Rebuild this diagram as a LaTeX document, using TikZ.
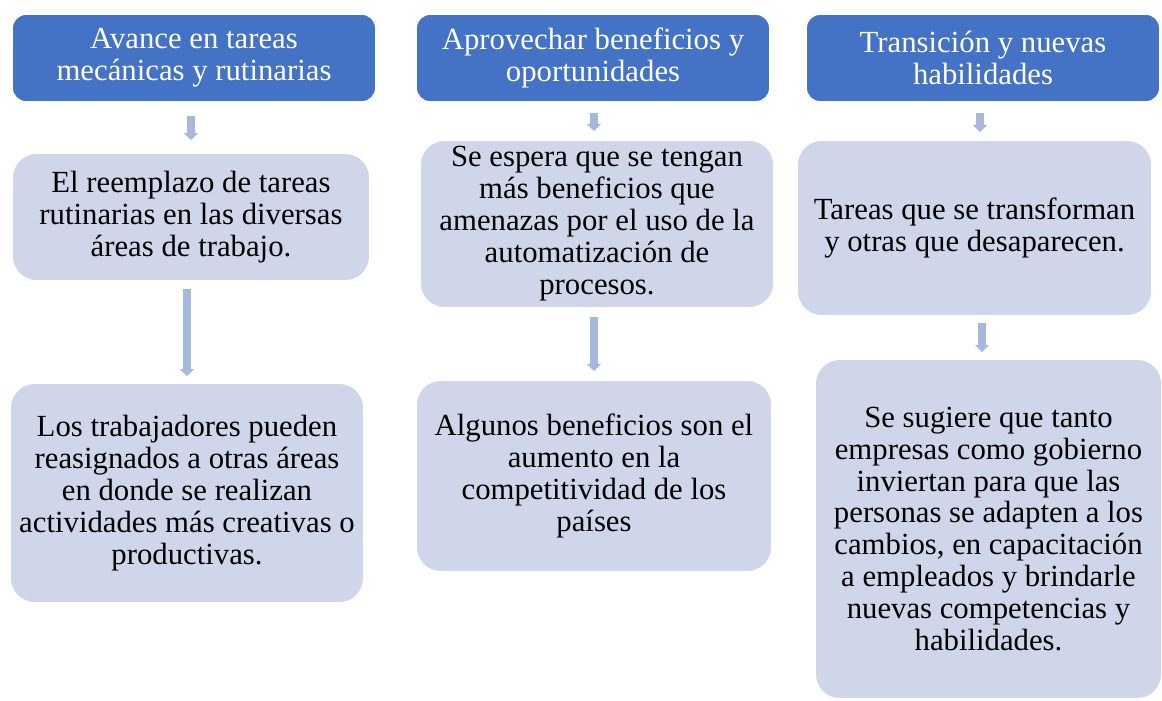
\documentclass[tikz,border=0pt]{standalone}
\usepackage{fontspec}
\setmainfont{Liberation Serif}
\usetikzlibrary{arrows.meta}
\definecolor{headblue}{HTML}{4472C4}
\definecolor{boxgray}{HTML}{D0D6EA}
\definecolor{arrowblue}{HTML}{A8B7DC}
\tikzset{
  head/.style={draw=white, line width=1pt, fill=headblue, rounded corners=8pt, text=white, align=center,
    font=\fontsize{17.5}{18.2}\selectfont, inner sep=0pt},
  info/.style={draw=white, line width=1pt, fill=boxgray, rounded corners=14pt, text=black, align=center,
    font=\fontsize{17.5}{18.2}\selectfont, inner sep=0pt},
  flow/.style={draw=arrowblue, line width=0.16cm, -{Triangle[width=0.27cm,length=0.14cm]}}
}
\begin{document}
\begin{tikzpicture}[x=0.02cm,y=-0.02cm]
\useasboundingbox (0,0) rectangle (1162,700);
% column headers
\node[head, minimum width=7.28cm, minimum height=1.76cm] (h1) at (194,58) {Avance en tareas\\mecánicas y rutinarias};
\node[head, minimum width=7.08cm, minimum height=1.76cm] (h2) at (593,58) {Aprovechar beneficios y\\oportunidades};
\node[head, minimum width=7.08cm, minimum height=1.76cm] (h3) at (983,58) {Transición y nuevas\\habilidades};
% first column
\node[info, minimum width=7.16cm, minimum height=2.56cm] (b1a) at (191,217) {El reemplazo de tareas\\rutinarias en las diversas\\áreas de trabajo.};
\node[info, minimum width=7.08cm, minimum height=4.4cm] (b1b) at (187,493) {Los trabajadores pueden\\reasignados a otras áreas\\en donde se realizan\\actividades más creativas o\\productivas.};
% second column
\node[info, minimum width=7.08cm, minimum height=3.36cm] (b2a) at (597,224) {Se espera que se tengan\\más beneficios que\\amenazas por el uso de la\\automatización de\\procesos.};
\node[info, minimum width=7.12cm, minimum height=3.84cm] (b2b) at (594,476) {Algunos beneficios son el\\aumento en la\\competitividad de los\\países};
% third column
\node[info, minimum width=7.1cm, minimum height=3.52cm] (b3a) at (974.5,228) {Tareas que se transforman\\y otras que desaparecen.};
\node[info, minimum width=6.94cm, minimum height=6.8cm] (b3b) at (988.5,529) {Se sugiere que tanto\\empresas como gobierno\\inviertan para que las\\personas se adapten a los\\cambios, en capacitación\\a empleados y brindarle\\nuevas competencias y\\habilidades.};
% arrows
\draw[flow, shorten <=0.26cm, shorten >=0.24cm] (h1.south -| b1a.north) -- (b1a.north);
\draw[flow, shorten <=0.14cm, shorten >=0.12cm] (b1a.south -| b1b.north) -- (b1b.north);
\draw[flow, shorten <=0.2cm, shorten >=0.16cm] (h2.south -| 594,0) -- (b2a.north -| 594,0);
\draw[flow, shorten <=0.16cm, shorten >=0.16cm] (b2a.south -| b2b.north) -- (b2b.north);
\draw[flow, shorten <=0.2cm, shorten >=0.14cm] (h3.south -| 980,0) -- (b3a.north -| 980,0);
\draw[flow, shorten <=0.12cm, shorten >=0.12cm] (b3a.south -| 982,0) -- (b3b.north -| 982,0);
\end{tikzpicture}
\end{document}
